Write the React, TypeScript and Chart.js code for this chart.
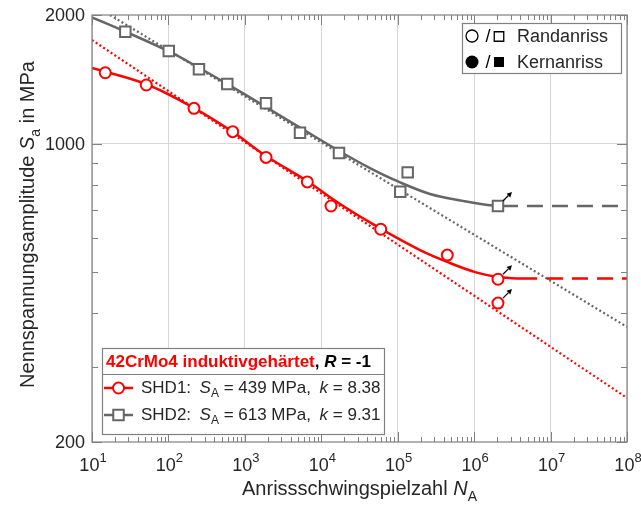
import React, { useEffect, useRef } from 'react';
import { Chart, registerables } from 'chart.js';

Chart.register(...registerables);

// ---------- data ----------
const xDecades = [1, 2, 3, 4, 5, 6, 7, 8];
const yMinorTicks = [300, 400, 500, 600, 700, 800, 900];
const yMajorTicks = [200, 1000, 2000];
const yGridValues = [1000];

// SHD1 test points (circles)
const shd1N = [14.9, 51.3, 216, 693, 1891, 6560, 13400, 59900, 445000, 2050000, 2050000];
const shd1S = [1465, 1371, 1209, 1066, 928, 813, 714, 630, 548, 481, 423];
const shd1Runouts = [9, 10];

// SHD2 test points (squares)
const shd2N = [27.3, 101, 251, 589, 1891, 5265, 17050, 108000, 135000, 2050000];
const shd2S = [1827, 1647, 1493, 1378, 1243, 1060, 950, 771, 856, 714];
const shd2Runouts = [9];

// fitted curves (solid)
const shd1CurveN = [10, 52.4, 216, 699, 1891, 6502, 17570, 60420, 195600, 483000, 1026000, 2050000, 3980000, 6640000];
const shd1CurveS = [1503, 1375, 1211, 1064, 935, 817, 722, 631, 563, 525, 500, 487, 483, 483];
const shd2CurveN = [10, 27, 101.7, 251, 584, 1891, 5265, 17570, 43380, 100900, 264500, 714600, 1764000, 3747000];
const shd2CurveS = [1975, 1830, 1643, 1505, 1380, 1217, 1090, 958, 876, 815, 762, 734, 716, 714];

// horizontal extensions (dashed)
const shd1DashN = [8970000, 100000000];
const shd1DashS = [483, 483];
const shd2DashN = [4910000, 100000000];
const shd2DashS = [714, 714];

// Basquin lines (dotted)
const shd1FitN = [10, 100000000];
const shd1FitS = [1748, 253.6];
const shd2FitN = [17.2, 100000000];
const shd2FitS = [2000, 372];

const shd1Label = { name: 'SHD1:', SA: '439', k: '8.38' };
const shd2Label = { name: 'SHD2:', SA: '613', k: '9.31' };

// ---------- style ----------
const RED = '#ff0000';
const GRAY = '#666666';
const AXIS = '#808080';
const GRID = '#d6d6d6';
const TEXT = '#262626';
const FF = '"Liberation Sans", Arial, Helvetica, sans-serif';

const pts = (xs: number[], ys: number[]) => xs.map((x, i) => ({ x, y: ys[i] }));

type Part = { t: string; font: string; color?: string; dy?: number };

function partsWidth(ctx: CanvasRenderingContext2D, parts: Part[]) {
  let w = 0;
  for (const p of parts) {
    ctx.font = p.font;
    w += ctx.measureText(p.t).width;
  }
  return w;
}

function drawParts(ctx: CanvasRenderingContext2D, parts: Part[], x: number, y: number, align: 'left' | 'center' | 'right') {
  const total = partsWidth(ctx, parts);
  let cx = align === 'left' ? x : align === 'center' ? x - total / 2 : x - total;
  ctx.textBaseline = 'middle';
  ctx.textAlign = 'left';
  for (const p of parts) {
    ctx.font = p.font;
    ctx.fillStyle = p.color || TEXT;
    ctx.fillText(p.t, cx, y + (p.dy || 0));
    cx += ctx.measureText(p.t).width;
  }
}

function drawCircleMarker(ctx: CanvasRenderingContext2D, x: number, y: number, r: number, stroke: string, fill: string, lw: number) {
  ctx.beginPath();
  ctx.arc(x, y, r, 0, Math.PI * 2);
  ctx.fillStyle = fill;
  ctx.fill();
  if (lw > 0) {
    ctx.lineWidth = lw;
    ctx.strokeStyle = stroke;
    ctx.stroke();
  }
}

function drawSquareMarker(ctx: CanvasRenderingContext2D, x: number, y: number, s: number, stroke: string, fill: string, lw: number) {
  ctx.beginPath();
  ctx.rect(x - s / 2, y - s / 2, s, s);
  ctx.fillStyle = fill;
  ctx.fill();
  if (lw > 0) {
    ctx.lineWidth = lw;
    ctx.strokeStyle = stroke;
    ctx.stroke();
  }
}

function drawArrow(ctx: CanvasRenderingContext2D, x0: number, y0: number, x1: number, y1: number) {
  const ang = Math.atan2(y1 - y0, x1 - x0);
  const hl = 5;
  const hw = 2.6;
  const bx = x1 - hl * Math.cos(ang);
  const by = y1 - hl * Math.sin(ang);
  ctx.strokeStyle = '#000';
  ctx.fillStyle = '#000';
  ctx.lineWidth = 1.2;
  ctx.beginPath();
  ctx.moveTo(x0, y0);
  ctx.lineTo(bx, by);
  ctx.stroke();
  ctx.beginPath();
  ctx.moveTo(x1, y1);
  ctx.lineTo(bx + hw * Math.sin(ang), by - hw * Math.cos(ang));
  ctx.lineTo(bx - hw * Math.sin(ang), by + hw * Math.cos(ang));
  ctx.closePath();
  ctx.fill();
}

const decorPlugin = {
  id: 'decor',
  afterDraw(chart: any) {
    const ctx: CanvasRenderingContext2D = chart.ctx;
    const xs = chart.scales.x;
    const ys = chart.scales.y;
    const { left, right, top, bottom } = chart.chartArea;
    ctx.save();

    // run-out arrows
    const arrowsFor = (N: number[], S: number[], idx: number[]) => {
      for (const i of idx) {
        const px = xs.getPixelForValue(N[i]);
        const py = ys.getPixelForValue(S[i]);
        drawArrow(ctx, px + 5, py - 5, px + 14, py - 14);
      }
    };
    arrowsFor(shd1N, shd1S, shd1Runouts);
    arrowsFor(shd2N, shd2S, shd2Runouts);

    // frame
    ctx.strokeStyle = AXIS;
    ctx.lineWidth = 1.2;
    ctx.strokeRect(left, top, right - left, bottom - top);

    // inner ticks
    ctx.lineWidth = 1;
    ctx.beginPath();
    for (const e of xDecades) {
      const dec = Math.pow(10, e);
      const px = Math.round(xs.getPixelForValue(dec)) + 0.5;
      ctx.moveTo(px, bottom);
      ctx.lineTo(px, bottom - 10);
      ctx.moveTo(px, top);
      ctx.lineTo(px, top + 10);
      if (e < 8) {
        for (let m = 2; m <= 9; m++) {
          const mx = Math.round(xs.getPixelForValue(m * dec)) + 0.5;
          ctx.moveTo(mx, bottom);
          ctx.lineTo(mx, bottom - 5);
          ctx.moveTo(mx, top);
          ctx.lineTo(mx, top + 5);
        }
      }
    }
    for (const v of yMajorTicks) {
      const py = Math.round(ys.getPixelForValue(v)) + 0.5;
      ctx.moveTo(left, py);
      ctx.lineTo(left + 10, py);
      ctx.moveTo(right, py);
      ctx.lineTo(right - 10, py);
    }
    for (const v of yMinorTicks) {
      const py = Math.round(ys.getPixelForValue(v)) + 0.5;
      ctx.moveTo(left, py);
      ctx.lineTo(left + 6, py);
      ctx.moveTo(right, py);
      ctx.lineTo(right - 6, py);
    }
    ctx.stroke();

    // tick labels
    const tickFont = `18px ${FF}`;
    const supFont = `13px ${FF}`;
    for (const v of yMajorTicks) {
      drawParts(ctx, [{ t: String(v), font: tickFont }], left - 7, ys.getPixelForValue(v) + 1, 'right');
    }
    for (const e of xDecades) {
      const px = xs.getPixelForValue(Math.pow(10, e));
      drawParts(ctx, [
        { t: '10', font: tickFont },
        { t: String(e), font: supFont, dy: -8 },
      ], px + 1, 466, 'center');
    }

    // axis titles
    const titleFont = `20px ${FF}`;
    const titleIt = `italic 20px ${FF}`;
    const subFont = `14px ${FF}`;
    drawParts(ctx, [
      { t: 'Anrissschwingspielzahl ', font: titleFont },
      { t: 'N', font: titleIt },
      { t: 'A', font: subFont, dy: 8 },
    ], (left + right) / 2, 489, 'center');

    ctx.save();
    ctx.translate(28, (top + bottom) / 2 - 4);
    ctx.rotate(-Math.PI / 2);
    drawParts(ctx, [
      { t: 'Nennspannungsamplitude ', font: titleFont },
      { t: 'S', font: titleIt },
      { t: 'a', font: subFont, dy: 8 },
      { t: ' in MPa', font: titleFont },
    ], 0, 0, 'center');
    ctx.restore();

    // top-right legend
    const lgX0 = 462, lgY0 = 23, lgX1 = 621, lgY1 = 73;
    ctx.fillStyle = '#fff';
    ctx.fillRect(lgX0, lgY0, lgX1 - lgX0, lgY1 - lgY0);
    ctx.strokeStyle = AXIS;
    ctx.lineWidth = 1.2;
    ctx.strokeRect(lgX0 + 0.5, lgY0 + 0.5, lgX1 - lgX0, lgY1 - lgY0);
    const lgFont = `18px ${FF}`;
    drawCircleMarker(ctx, 472, 36, 6, '#000', '#fff', 1.3);
    drawParts(ctx, [{ t: '/', font: lgFont, color: '#000' }], 488, 37, 'center');
    drawSquareMarker(ctx, 499, 36.5, 9.5, '#000', '#fff', 1.3);
    drawParts(ctx, [{ t: 'Randanriss', font: lgFont }], 517, 37, 'left');
    drawCircleMarker(ctx, 472, 62, 6.5, '#000', '#000', 0);
    drawParts(ctx, [{ t: '/', font: lgFont, color: '#000' }], 488, 63, 'center');
    drawSquareMarker(ctx, 499, 62, 10, '#000', '#000', 0);
    drawParts(ctx, [{ t: 'Kernanriss', font: lgFont }], 517, 63, 'left');

    // bottom-left legend
    const bx0 = 102, by0 = 348, bx1 = 384, by1 = 434;
    ctx.fillStyle = '#fff';
    ctx.fillRect(bx0, by0, bx1 - bx0, by1 - by0);
    ctx.strokeStyle = AXIS;
    ctx.lineWidth = 1.2;
    ctx.strokeRect(bx0 + 0.5, by0 + 0.5, bx1 - bx0, by1 - by0);
    ctx.beginPath();
    ctx.moveTo(bx0, 374.5);
    ctx.lineTo(bx1, 374.5);
    ctx.stroke();
    const bFont = `bold 17px ${FF}`;
    const biFont = `bold italic 17px ${FF}`;
    drawParts(ctx, [
      { t: '42CrMo4 induktivgehärtet', font: bFont, color: RED },
      { t: ', ', font: bFont, color: '#000' },
      { t: 'R', font: biFont, color: '#000' },
      { t: ' = -1', font: bFont, color: '#000' },
    ], 106, 362, 'left');

    const eFont = `17px ${FF}`;
    const eIt = `italic 17px ${FF}`;
    const eSub = `12px ${FF}`;
    const entry = (lab: any, y: number, color: string, marker: 'circle' | 'square') => {
      ctx.strokeStyle = color;
      ctx.lineWidth = 2.5;
      ctx.beginPath();
      ctx.moveTo(104, y);
      ctx.lineTo(133, y);
      ctx.stroke();
      if (marker === 'circle') drawCircleMarker(ctx, 118.5, y, 5.5, color, '#fff', 2);
      else drawSquareMarker(ctx, 118.5, y, 10.5, color, '#fff', 2);
      drawParts(ctx, [
        { t: lab.name + '\u2002', font: eFont },
        { t: 'S', font: eIt },
        { t: 'A', font: eSub, dy: 6 },
        { t: ' = ' + lab.SA + ' MPa,\u2002', font: eFont },
        { t: 'k', font: eIt },
        { t: ' = ' + lab.k, font: eFont },
      ], 141, y, 'left');
    };
    entry(shd1Label, 388, RED, 'circle');
    entry(shd2Label, 415, GRAY, 'square');

    ctx.restore();
  },
};

export default function App() {
  const ref = useRef<HTMLCanvasElement | null>(null);

  useEffect(() => {
    if (!ref.current) return;
    const chart = new Chart(ref.current, {
      type: 'scatter',
      data: {
        datasets: [
          {
            label: 'SHD1',
            data: pts(shd1N, shd1S),
            showLine: false,
            pointStyle: 'circle',
            pointRadius: 5.5,
            pointBorderWidth: 2,
            pointBorderColor: RED,
            pointBackgroundColor: '#fff',
          },
          {
            label: 'SHD2',
            data: pts(shd2N, shd2S),
            showLine: false,
            pointStyle: 'rect',
            pointRadius: 7.4,
            pointBorderWidth: 2,
            pointBorderColor: GRAY,
            pointBackgroundColor: '#fff',
          },
          {
            label: 'SHD1 curve',
            data: pts(shd1CurveN, shd1CurveS),
            showLine: true,
            borderColor: RED,
            borderWidth: 2.5,
            pointRadius: 0,
            tension: 0.35,
          },
          {
            label: 'SHD1 ext',
            data: pts(shd1DashN, shd1DashS),
            showLine: true,
            borderColor: RED,
            borderWidth: 2.5,
            borderDash: [16, 9],
            pointRadius: 0,
          },
          {
            label: 'SHD2 curve',
            data: pts(shd2CurveN, shd2CurveS),
            showLine: true,
            borderColor: GRAY,
            borderWidth: 2.5,
            pointRadius: 0,
            tension: 0.35,
          },
          {
            label: 'SHD2 ext',
            data: pts(shd2DashN, shd2DashS),
            showLine: true,
            borderColor: GRAY,
            borderWidth: 2.5,
            borderDash: [16, 9],
            pointRadius: 0,
          },
          {
            label: 'SHD1 fit',
            data: pts(shd1FitN, shd1FitS),
            showLine: true,
            borderColor: RED,
            borderWidth: 2.2,
            borderDash: [2, 2.5],
            pointRadius: 0,
          },
          {
            label: 'SHD2 fit',
            data: pts(shd2FitN, shd2FitS),
            showLine: true,
            borderColor: GRAY,
            borderWidth: 2.2,
            borderDash: [2, 2.5],
            pointRadius: 0,
          },
        ],
      },
      options: {
        responsive: false,
        animation: false,
        devicePixelRatio: 1,
        layout: { padding: { top: 15, right: 14, left: 0, bottom: 0 } },
        plugins: {
          legend: { display: false },
          tooltip: { enabled: false },
        },
        scales: {
          x: {
            type: 'logarithmic',
            position: 'bottom',
            min: 10,
            max: 100000000,
            afterBuildTicks: (s: any) => {
              s.ticks = xDecades.map((e) => ({ value: Math.pow(10, e) }));
            },
            afterFit: (s: any) => {
              s.height = 69;
            },
            ticks: { display: false },
            grid: { color: GRID, lineWidth: 1, drawTicks: false },
            border: { display: false },
          },
          y: {
            type: 'logarithmic',
            position: 'left',
            min: 200,
            max: 2000,
            afterBuildTicks: (s: any) => {
              s.ticks = yGridValues.map((v) => ({ value: v }));
            },
            afterFit: (s: any) => {
              s.width = 92;
            },
            ticks: { display: false },
            grid: { color: GRID, lineWidth: 1, drawTicks: false },
            border: { display: false },
          },
        },
      } as any,
      plugins: [decorPlugin],
    });
    return () => chart.destroy();
  }, []);

  return (
    <div style={{ position: 'absolute', left: 0, top: 0, width: 641, height: 511, background: '#fff' }}>
      <canvas ref={ref} width={641} height={511} style={{ display: 'block' }} />
    </div>
  );
}
